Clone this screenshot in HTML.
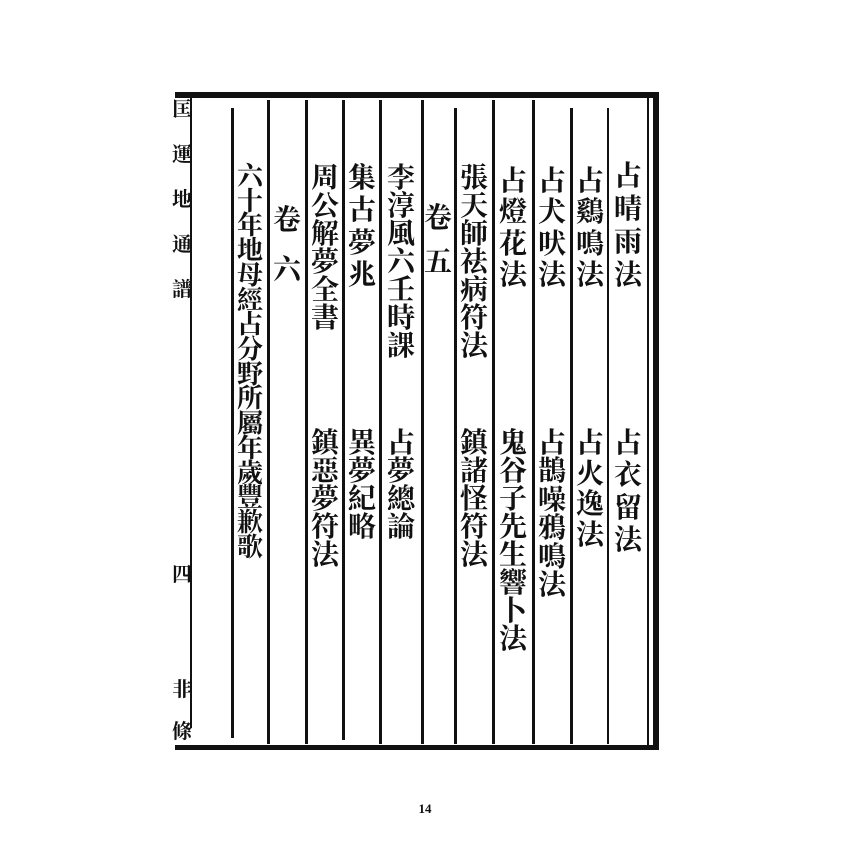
<!DOCTYPE html>
<html><head><meta charset="utf-8"><style>
body{margin:0;background:#fff;}
#p{position:relative;width:850px;height:850px;overflow:hidden;background:#fff;}
.l{position:absolute;background:#111;}
.c{position:absolute;display:flex;flex-direction:column;justify-content:space-between;align-items:center;width:36px;font-family:"Liberation Serif","Noto Serif CJK SC","Noto Sans CJK SC",serif;font-weight:bold;font-size:28px;line-height:28px;color:#111;}
.c span{display:block;height:28px;}
.m{font-size:20px;line-height:20px;width:20px;}
.m span{height:20px;}
</style></head><body><div id="p">
<!-- borders -->
<div class="l" style="left:175px;top:92px;width:484px;height:6px"></div>
<div class="l" style="left:175px;top:745px;width:484px;height:5px"></div>
<div class="l" style="left:653px;top:92px;width:6px;height:658px"></div>
<div class="l" style="left:647px;top:98px;width:2px;height:650px"></div>
<div class="l" style="left:190px;top:98px;width:2px;height:630px"></div>
<!-- column lines -->
<div class="l" style="left:231px;top:108px;width:3px;height:630px"></div>
<div class="l" style="left:267px;top:100px;width:3px;height:644px"></div>
<div class="l" style="left:305px;top:100px;width:3px;height:644px"></div>
<div class="l" style="left:342px;top:100px;width:3px;height:640px"></div>
<div class="l" style="left:379px;top:100px;width:3px;height:644px"></div>
<div class="l" style="left:421px;top:100px;width:3px;height:644px"></div>
<div class="l" style="left:454px;top:108px;width:3px;height:636px"></div>
<div class="l" style="left:492px;top:100px;width:3px;height:644px"></div>
<div class="l" style="left:532px;top:100px;width:3px;height:644px"></div>
<div class="l" style="left:570px;top:108px;width:3px;height:636px"></div>
<div class="l" style="left:607px;top:108px;width:2px;height:636px"></div>

<!-- margin -->
<div class="c m" style="left:172px;top:100px;height:200px"><span>匡</span><span>運</span><span>地</span><span>通</span><span>譜</span></div>
<div class="c m" style="left:172px;top:565px;height:20px"><span>四</span></div>
<div class="c m" style="left:172px;top:680px;height:20px"><span>非</span></div>
<div class="c m" style="left:172px;top:722px;height:20px"><span>條</span></div>

<!-- col1 -->
<div class="c" style="left:610px;top:163px;height:127px"><span>占</span><span>晴</span><span>雨</span><span>法</span></div>
<div class="c" style="left:610px;top:430px;height:125px"><span>占</span><span>衣</span><span>留</span><span>法</span></div>
<div class="c" style="left:572px;top:168px;height:122px"><span>占</span><span>鷄</span><span>鳴</span><span>法</span></div>
<div class="c" style="left:572px;top:430px;height:120px"><span>占</span><span>火</span><span>逸</span><span>法</span></div>
<div class="c" style="left:534px;top:168px;height:122px"><span>占</span><span>犬</span><span>吠</span><span>法</span></div>
<div class="c" style="left:534px;top:430px;height:170px"><span>占</span><span>鵲</span><span>噪</span><span>鴉</span><span>鳴</span><span>法</span></div>
<div class="c" style="left:495px;top:168px;height:122px"><span>占</span><span>燈</span><span>花</span><span>法</span></div>
<div class="c" style="left:495px;top:430px;height:210px"><span>鬼</span><span>谷</span><span>子</span><span>先</span><span>生</span><span>響</span><span>卜</span><span>法</span></div>
<div class="c" style="left:456px;top:165px;height:185px"><span>張</span><span>天</span><span>師</span><span>祛</span><span>病</span><span>符</span><span>法</span></div>
<div class="c" style="left:456px;top:430px;height:130px"><span>鎮</span><span>諸</span><span>怪</span><span>符</span><span>法</span></div>
<div class="c" style="left:420px;top:205px;height:72px"><span>卷</span><span>五</span></div>
<div class="c" style="left:383px;top:165px;height:195px"><span>李</span><span>淳</span><span>風</span><span>六</span><span>壬</span><span>時</span><span>課</span></div>
<div class="c" style="left:383px;top:430px;height:112px"><span>占</span><span>夢</span><span>總</span><span>論</span></div>
<div class="c" style="left:344px;top:165px;height:125px"><span>集</span><span>古</span><span>夢</span><span>兆</span></div>
<div class="c" style="left:344px;top:430px;height:112px"><span>異</span><span>夢</span><span>紀</span><span>略</span></div>
<div class="c" style="left:307px;top:165px;height:155px"><span>周</span><span>公</span><span>解</span><span>夢</span><span>全</span><span>書</span></div>
<div class="c" style="left:307px;top:430px;height:130px"><span>鎮</span><span>惡</span><span>夢</span><span>符</span><span>法</span></div>
<div class="c" style="left:269px;top:207px;height:78px"><span>卷</span><span>六</span></div>
<div class="c" style="left:232px;top:165px;height:395px;font-size:26px;line-height:24px"><span style="height:24px">六</span><span style="height:24px">十</span><span style="height:24px">年</span><span style="height:24px">地</span><span style="height:24px">母</span><span style="height:24px">經</span><span style="height:24px">占</span><span style="height:24px">分</span><span style="height:24px">野</span><span style="height:24px">所</span><span style="height:24px">屬</span><span style="height:24px">年</span><span style="height:24px">歲</span><span style="height:24px">豐</span><span style="height:24px">歉</span><span style="height:24px">歌</span></div>

<div style="position:absolute;left:410px;top:801px;width:30px;text-align:center;font-family:'Liberation Serif',serif;font-weight:bold;font-size:13px;color:#111">14</div>
</div></body></html>
